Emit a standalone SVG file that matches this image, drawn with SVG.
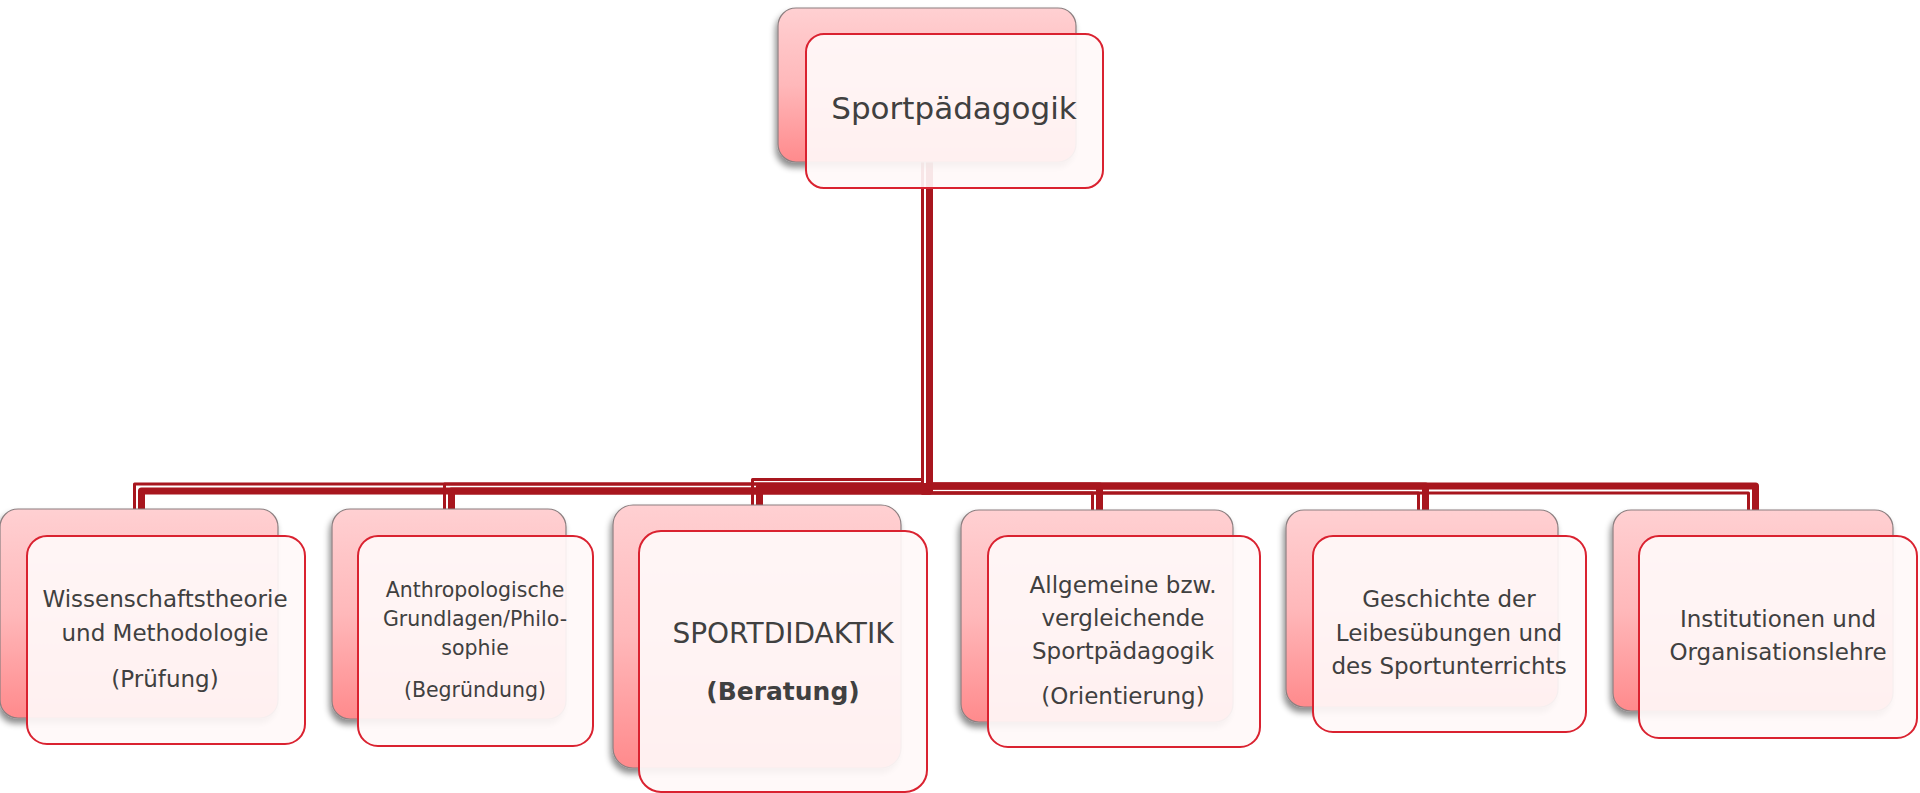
<svg xmlns="http://www.w3.org/2000/svg" width="1920" height="793" viewBox="0 0 1920 793">
<defs>
<linearGradient id="pink" x1="0" y1="0" x2="0" y2="1">
<stop offset="0" stop-color="#FFD0D2"/>
<stop offset="0.5" stop-color="#FFB8BA"/>
<stop offset="1" stop-color="#FF8A8C"/>
</linearGradient>
<filter id="sh" x="-10%" y="-10%" width="120%" height="130%">
<feDropShadow dx="-2" dy="5" stdDeviation="3" flood-color="#000" flood-opacity="0.45"/>
</filter>
<style>
.back{fill:url(#pink);stroke:#8C7F80;stroke-width:1.2;filter:url(#sh)}
.front{fill:#FFF9F9;fill-opacity:0.92;stroke:#DA2230;stroke-width:2}
.t{font-family:"DejaVu Sans","Liberation Sans",sans-serif;fill:#404040;text-anchor:middle}
.thin{fill:none;stroke:#A8161E;stroke-width:3;stroke-linejoin:round}
.thick{fill:none;stroke:#A8161E;stroke-width:7;stroke-linejoin:round}
</style>
</defs>
<rect width="1920" height="793" fill="#FFFFFF"/>
<g id="connectors">
<path class="thin" d="M922.5 160 V484 H134.5 V510"/>
<path class="thick" d="M929.5 160 V491 H141.5 V510"/>
<path class="thin" d="M922.5 160 V484 H444.5 V510"/>
<path class="thick" d="M929.5 160 V491 H451.5 V510"/>
<path class="thin" d="M922.5 160 V479.5 H752.5 V506"/>
<path class="thick" d="M929.5 160 V486.5 H759.5 V506"/>
<path class="thin" d="M922.5 160 V493 H1092.5 V511"/>
<path class="thick" d="M929.5 160 V486 H1099.5 V511"/>
<path class="thin" d="M922.5 160 V493 H1418.5 V511"/>
<path class="thick" d="M929.5 160 V486 H1425.5 V511"/>
<path class="thin" d="M922.5 160 V493 H1748.5 V511"/>
<path class="thick" d="M929.5 160 V486 H1755.5 V511"/>
</g>
<g id="node-root">
<rect class="back" x="778" y="8" width="298" height="154" rx="18"/>
<rect class="front" x="806" y="34" width="297" height="154" rx="18"/>
<text class="t" x="954" y="119" font-size="31">Sportpädagogik</text>
</g>
<g id="node-wissenschaft">
<rect class="back" x="0" y="509" width="278" height="209" rx="18"/>
<rect class="front" x="27" y="536" width="278" height="208" rx="20"/>
<text class="t" x="165" y="607" font-size="23">Wissenschaftstheorie</text>
<text class="t" x="165" y="641" font-size="23">und Methodologie</text>
<text class="t" x="165" y="687" font-size="23">(Prüfung)</text>
</g>
<g id="node-anthropologie">
<rect class="back" x="332" y="509" width="234" height="210" rx="18"/>
<rect class="front" x="358" y="536" width="235" height="210" rx="20"/>
<text class="t" x="475" y="597" font-size="20.5">Anthropologische</text>
<text class="t" x="475" y="626" font-size="20.5">Grundlagen/Philo-</text>
<text class="t" x="475" y="655" font-size="20.5">sophie</text>
<text class="t" x="475" y="697" font-size="20.5">(Begründung)</text>
</g>
<g id="node-sportdidaktik">
<rect class="back" x="613" y="505" width="288" height="263" rx="20"/>
<rect class="front" x="639" y="531" width="288" height="261" rx="22"/>
<text class="t" x="783" y="643" font-size="28">SPORTDIDAKTIK</text>
<text class="t" x="783" y="700" font-size="25" font-weight="bold">(Beratung)</text>
</g>
<g id="node-allgemeine">
<rect class="back" x="961" y="510" width="272" height="212" rx="18"/>
<rect class="front" x="988" y="536" width="272" height="211" rx="20"/>
<text class="t" x="1123" y="593" font-size="23">Allgemeine bzw.</text>
<text class="t" x="1123" y="626" font-size="23">vergleichende</text>
<text class="t" x="1123" y="659" font-size="23">Sportpädagogik</text>
<text class="t" x="1123" y="704" font-size="23">(Orientierung)</text>
</g>
<g id="node-geschichte">
<rect class="back" x="1286" y="510" width="272" height="197" rx="18"/>
<rect class="front" x="1313" y="536" width="273" height="196" rx="20"/>
<text class="t" x="1449" y="607" font-size="23">Geschichte der</text>
<text class="t" x="1449" y="641" font-size="23">Leibesübungen und</text>
<text class="t" x="1449" y="674" font-size="23">des Sportunterrichts</text>
</g>
<g id="node-institutionen">
<rect class="back" x="1613" y="510" width="280" height="201" rx="18"/>
<rect class="front" x="1639" y="536" width="278" height="202" rx="20"/>
<text class="t" x="1778" y="627" font-size="23">Institutionen und</text>
<text class="t" x="1778" y="660" font-size="23">Organisationslehre</text>
</g>
</svg>
